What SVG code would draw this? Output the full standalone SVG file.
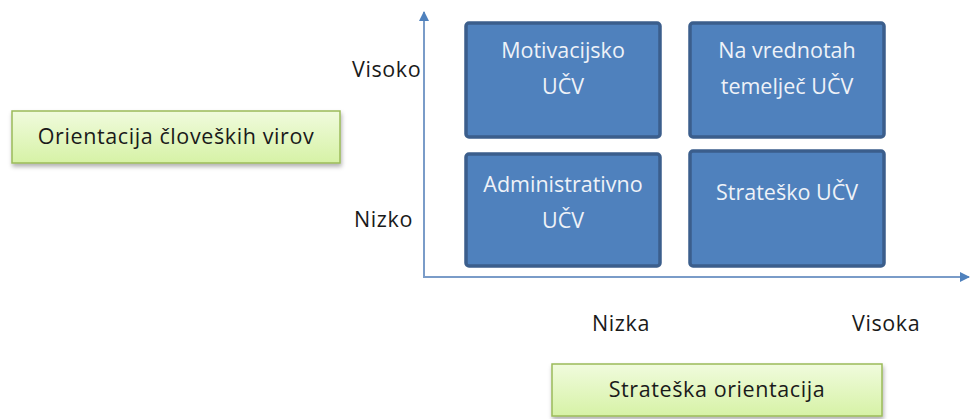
<svg xmlns="http://www.w3.org/2000/svg" width="970" height="419" viewBox="0 0 970 419">
<defs>
<style>
.q{fill:#4F81BD;stroke:#3B5E8C;stroke-width:3.5}
.qt{font-family:"Open Sans","Liberation Sans",sans-serif;font-size:21.5px;fill:#EEF2F8;text-anchor:middle}
.lb{font-family:"Open Sans","Liberation Sans",sans-serif;font-size:21.5px;letter-spacing:0.6px;fill:#1a1a1a}
.g{fill:url(#gg);stroke:#9BBB59;stroke-width:1.5;filter:url(#sh)}
.ax{stroke:#7A9CC8;stroke-width:2;fill:none}
</style>
<linearGradient id="gg" x1="0" y1="0" x2="0" y2="1">
<stop offset="0" stop-color="#F0FBDD"/>
<stop offset="1" stop-color="#D6F2A6"/>
</linearGradient>
<filter id="sh" x="-5%" y="-20%" width="110%" height="150%">
<feDropShadow dx="1" dy="3" stdDeviation="2" flood-color="#000" flood-opacity="0.3"/>
</filter>
<marker id="ar" markerWidth="10" markerHeight="10" refX="9" refY="5" orient="auto" markerUnits="userSpaceOnUse">
<path d="M0,0 L10,5 L0,10 z" fill="#4F81BD"/>
</marker>
</defs>
<g id="connectors">
<line class="ax" x1="424" y1="278" x2="424" y2="12" marker-end="url(#ar)"/>
<line class="ax" x1="423" y1="277" x2="969" y2="277" marker-end="url(#ar)"/>
</g>
<g id="n-motiv">
<rect class="q" x="466" y="23" width="194" height="114" rx="3"/>
<text class="qt" x="563" y="58">Motivacijsko</text>
<text class="qt" x="563" y="94">UČV</text>
</g>
<g id="n-vred">
<rect class="q" x="690" y="23" width="194" height="114" rx="3"/>
<text class="qt" x="787" y="58">Na vrednotah</text>
<text class="qt" x="787" y="94">temelječ UČV</text>
</g>
<g id="n-admin">
<rect class="q" x="466" y="154" width="194" height="112" rx="3"/>
<text class="qt" x="563" y="192">Administrativno</text>
<text class="qt" x="563" y="228">UČV</text>
</g>
<g id="n-strat">
<rect class="q" x="690" y="151" width="194" height="115" rx="3"/>
<text class="qt" x="787" y="200">Strateško UČV</text>
</g>
<g id="n-visoko"><text class="lb" x="352" y="77">Visoko</text></g>
<g id="n-nizko"><text class="lb" x="354" y="227">Nizko</text></g>
<g id="n-nizka"><text class="lb" x="592" y="331">Nizka</text></g>
<g id="n-visoka"><text class="lb" x="852" y="331">Visoka</text></g>
<g id="n-cv">
<rect class="g" x="12" y="111" width="328" height="52"/>
<text class="lb" x="176" y="144" text-anchor="middle">Orientacija človeških virov</text>
</g>
<g id="n-so">
<rect class="g" x="552" y="364" width="330" height="52"/>
<text class="lb" x="717" y="397" text-anchor="middle">Strateška orientacija</text>
</g>
</svg>
